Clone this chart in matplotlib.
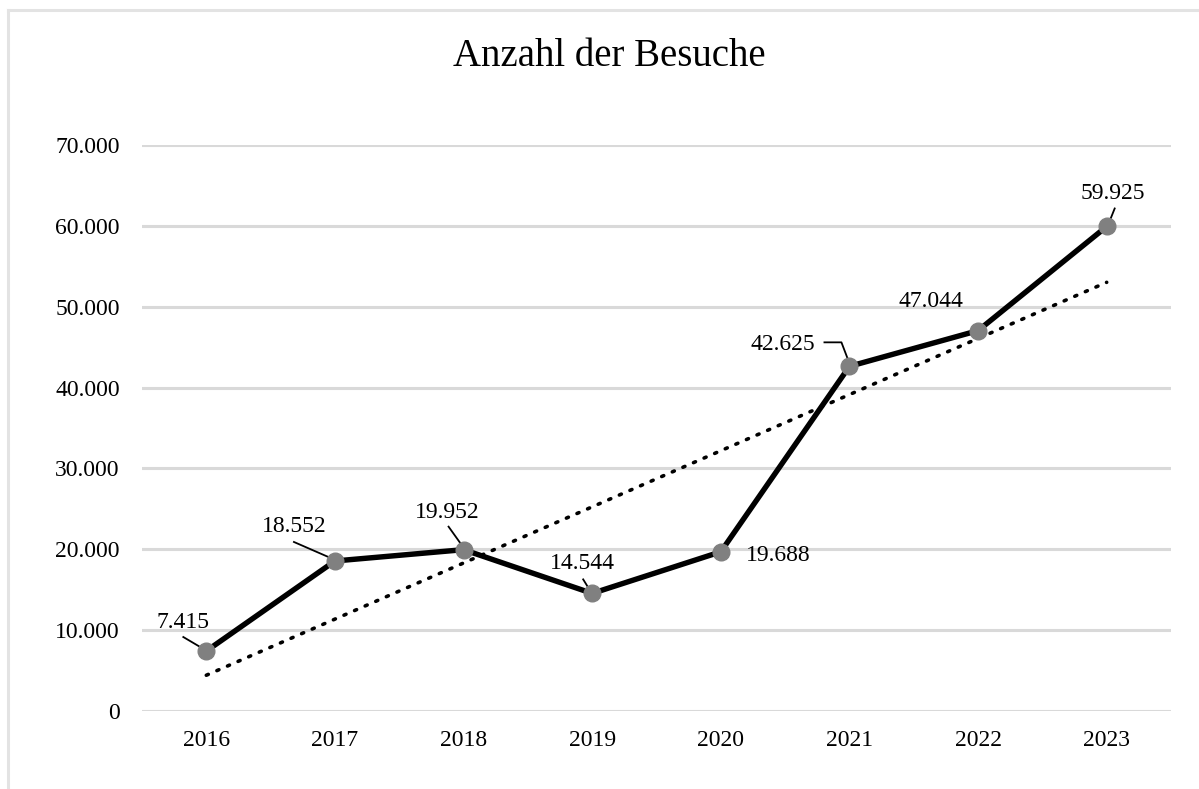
import matplotlib
matplotlib.use("Agg")
import matplotlib.pyplot as plt
import numpy as np
from matplotlib.lines import Line2D

years = ["2016", "2017", "2018", "2019", "2020", "2021", "2022", "2023"]
visits = [7415, 18552, 19952, 14544, 19688, 42625, 47044, 59925]
labels = ["7.415", "18.552", "19.952", "14.544", "19.688", "42.625", "47.044", "59.925"]
yticks = [0, 10000, 20000, 30000, 40000, 50000, 60000, 70000]
ytick_labels = ["0", "10.000", "20.000", "30.000", "40.000", "50.000", "60.000", "70.000"]

plt.rcParams['font.family'] = ['Liberation Serif', 'DejaVu Serif']

fig = plt.figure(figsize=(11.99, 7.89), dpi=100)
ax = fig.add_axes([142 / 1199, 0.0989, 1029 / 1199, 0.7173])

x = np.arange(len(years))
ax.set_xlim(-0.5, len(years) - 0.5)
ax.set_ylim(0, 70000)

for yt in yticks:
    ax.axhline(yt, color="#d9d9d9", lw=2.2, zorder=0)

coef = np.polyfit(x, visits, 1)
trend = np.polyval(coef, x)
ax.plot(x, trend, color="black", lw=2.6, linestyle=(0, (0.6, 2.6)),
        dash_capstyle="round", zorder=2)

ax.plot(x, visits, color="black", lw=3.9, zorder=3, solid_joinstyle="miter")
ax.plot(x, visits, linestyle="none", marker="o", ms=12, color="#808080",
        mec="#808080", zorder=4)

# label centre offsets in pixels (dx right, dy up) relative to the point
offs = [(-23, 31), (-41, 37), (-16, 40), (-10, 32), (57, -1), (-67, 24), (-47, 32), (6, 35)]
leaders = [
    [(-23, 14), (-1, 1)],
    [(-41, 19), (-2, 2)],
    [(-15, 23), (0, 2)],
    [(-9, 14), (-1, 1)],
    None,
    [(-25, 24), (-8, 24), (0, 3)],
    None,
    [(8, 18), (2, 3)],
]

for i, (xi, yi) in enumerate(zip(x, visits)):
    dx, dy = offs[i]
    ax.annotate(labels[i], (xi, yi), xytext=(dx * 0.72, (dy - 8) * 0.72),
                textcoords="offset points", ha="center", va="baseline",
                fontsize=17, color="black", zorder=5)
    if leaders[i] is not None:
        pts = leaders[i]
        px, py = ax.transData.transform((xi, yi))
        xs = [px + p[0] for p in pts]
        ys = [py + p[1] for p in pts]
        inv = ax.transData.inverted()
        dpts = inv.transform(np.column_stack([xs, ys]))
        ax.plot(dpts[:, 0], dpts[:, 1], color="black", lw=1.3, zorder=3.5)

ax.set_xticks(x)
ax.set_xticklabels(years, fontsize=17)
ax.set_yticks(yticks)
ax.set_yticklabels(ytick_labels, fontsize=17)
ax.tick_params(axis="both", length=0)
ax.tick_params(axis="x", pad=14)
ax.tick_params(axis="y", pad=16)
for s in ax.spines.values():
    s.set_visible(False)

fig.text(0.508, 0.929, "Anzahl der Besuche", ha="center", va="center", fontsize=28)

# chart border
fig.add_artist(Line2D([8 / 1199, 1], [1 - 10 / 789, 1 - 10 / 789], color="#e3e3e3", lw=2.2,
                      transform=fig.transFigure))
fig.add_artist(Line2D([8 / 1199, 8 / 1199], [0, 1 - 10 / 789], color="#e3e3e3", lw=2.2,
                      transform=fig.transFigure))

fig.savefig("out.png", dpi=100)
